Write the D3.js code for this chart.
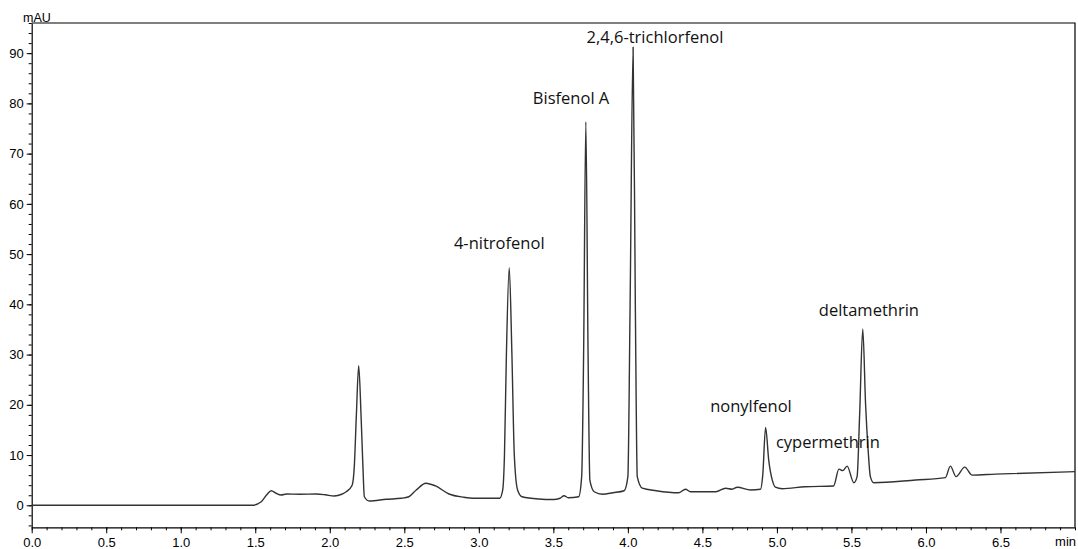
<!DOCTYPE html>
<html>
<head>
<meta charset="utf-8">
<script src="https://cdn.jsdelivr.net/npm/d3@7"></script>
<style>
    body { margin: 0; background: #fff; }
    svg { display: block; }
</style>
</head>
<body>
<div id="chart"></div>
<script>
const WIDTH = 1078;
const HEIGHT = 549;
const PLOT = { left: 31.7, right: 1075, top: 23, bottom: 527.3 };
const AXIS_FONT = "'Liberation Sans', Arial, sans-serif";

// Retention time (min) and absorbance (mAU)
const times = [
    0.00, 1.48, 1.54, 1.58, 1.607, 1.64, 1.673, 1.71, 1.80, 1.91, 1.97, 2.03, 2.08, 2.11, 2.15,
    2.165, 2.178, 2.194, 2.21, 2.222, 2.232, 2.265, 2.38, 2.48, 2.53, 2.58, 2.645, 2.71, 2.80,
    2.90, 2.96, 3.14, 3.16, 3.172, 3.185, 3.204, 3.222, 3.238, 3.26, 3.29, 3.40, 3.50, 3.545,
    3.572, 3.60, 3.67, 3.69, 3.703, 3.718, 3.733, 3.745, 3.774, 3.83, 3.90, 3.975, 4.00, 4.015,
    4.035, 4.05, 4.063, 4.097, 4.19, 4.34, 4.387, 4.42, 4.59, 4.656, 4.70, 4.734, 4.824, 4.89,
    4.905, 4.924, 4.945, 4.969, 4.99, 5.036, 5.19, 5.38, 5.416, 5.442, 5.471, 5.516, 5.538,
    5.555, 5.576, 5.595, 5.612, 5.627, 5.65, 5.93, 6.13, 6.164, 6.202, 6.26, 6.31, 6.466, 7.00
];
const mAU = [
    0, 0, 0.7, 2.2, 2.9, 2.4, 2.05, 2.25, 2.2, 2.25, 2.1, 1.85, 2.2, 2.7, 4.0,
    8.0, 17.7, 27.8, 17.7, 8.0, 1.7, 0.85, 1.2, 1.4, 1.7, 3.05, 4.4, 3.85, 2.25,
    1.6, 1.4, 1.4, 3.0, 10, 30, 47.3, 30, 10, 3.05, 1.7, 1.25, 1.15, 1.4,
    1.9, 1.5, 1.7, 5.7, 30, 76.3, 30, 5.0, 2.7, 2.2, 2.5, 2.9, 5.7, 40,
    91.2, 40, 5.7, 3.4, 2.9, 2.5, 3.2, 2.7, 2.7, 3.4, 3.2, 3.6, 3.05, 3.2,
    6, 15.5, 9, 5.0, 3.6, 3.3, 3.7, 3.85, 7.2, 6.9, 7.8, 4.5, 5.7,
    18, 35.1, 20, 11.0, 5.7, 4.5, 5.04, 5.5, 7.8, 5.7, 7.6, 6.0, 6.2, 6.7
];

// Peak annotations (text, time, mAU of text baseline)
const peakNames = ['4-nitrofenol', 'Bisfenol A', '2,4,6-trichlorfenol', 'nonylfenol', 'cypermethrin', 'deltamethrin'];
const peakTimes = [3.137, 3.619, 4.182, 4.826, 5.342, 5.617];
const peakLabelY = [51.1, 79.8, 92.0, 18.6, 11.4, 37.7];

const xTicks = [0.0, 0.5, 1.0, 1.5, 2.0, 2.5, 3.0, 3.5, 4.0, 4.5, 5.0, 5.5, 6.0, 6.5];
const yTicks = [0, 10, 20, 30, 40, 50, 60, 70, 80, 90];

const svg = d3.select('#chart')
    .append('svg')
    .attr('width', WIDTH)
    .attr('height', HEIGHT);

const x = d3.scaleLinear().domain([0, 7.0]).range([PLOT.left, PLOT.right]);
const y = d3.scaleLinear().domain([-4.38, 96]).range([PLOT.bottom, PLOT.top]);

// Frame (top and right)
svg.append('path')
    .attr('d', `M${PLOT.left},${PLOT.top}H${PLOT.right}V${PLOT.bottom}`)
    .attr('fill', 'none')
    .attr('stroke', '#000')
    .attr('stroke-width', 1.2);

// Minor ticks
const xMinor = d3.range(0, 71).map(i => i / 10);
const yMinor = d3.range(-2, 49).map(i => i * 2);

const xMinorAxis = svg.append('g')
    .attr('transform', `translate(0,${PLOT.bottom})`)
    .call(d3.axisBottom(x).tickValues(xMinor).tickSize(3).tickFormat(''));
xMinorAxis.select('.domain').remove();

const yMinorAxis = svg.append('g')
    .attr('transform', `translate(${PLOT.left},0)`)
    .call(d3.axisLeft(y).tickValues(yMinor).tickSize(3).tickFormat(''));
yMinorAxis.select('.domain').remove();

// Major axes
const xAxis = svg.append('g')
    .attr('transform', `translate(0,${PLOT.bottom})`)
    .call(d3.axisBottom(x).tickValues(xTicks).tickSize(6).tickSizeOuter(0).tickPadding(4)
        .tickFormat(d3.format('.1f')));

const yAxis = svg.append('g')
    .attr('transform', `translate(${PLOT.left},0)`)
    .call(d3.axisLeft(y).tickValues(yTicks).tickSize(5).tickSizeOuter(0).tickPadding(3)
        .tickFormat(d3.format('d')));

[xAxis, yAxis, xMinorAxis, yMinorAxis].forEach(a => {
    a.attr('font-family', AXIS_FONT).attr('font-size', 13);
    a.selectAll('line').attr('stroke', '#000');
    a.select('.domain').attr('stroke', '#000').attr('stroke-width', 1.2);
    a.selectAll('text').attr('fill', '#000');
});

// Unit labels
svg.append('text')
    .attr('x', 23)
    .attr('y', 21.5)
    .attr('font-family', AXIS_FONT)
    .attr('font-size', 12.5)
    .text('mAU');

svg.append('text')
    .attr('x', 1076)
    .attr('y', 546)
    .attr('text-anchor', 'end')
    .attr('font-family', AXIS_FONT)
    .attr('font-size', 13)
    .text('min');

// Chromatogram trace
const points = times.map((t, i) => ({ t: t, v: mAU[i] }));
const line = d3.line()
    .x(d => x(d.t))
    .y(d => y(d.v))
    .curve(d3.curveMonotoneX);

svg.append('path')
    .datum(points)
    .attr('d', line)
    .attr('fill', 'none')
    .attr('stroke', '#333')
    .attr('stroke-width', 1.4)
    .attr('stroke-linejoin', 'round');

// Peak labels
svg.selectAll('text.peak')
    .data(peakNames)
    .enter()
    .append('text')
    .attr('class', 'peak')
    .attr('x', (d, i) => x(peakTimes[i]))
    .attr('y', (d, i) => y(peakLabelY[i]))
    .attr('text-anchor', 'middle')
    .attr('font-family', "'Open Sans', sans-serif")
    .attr('font-size', 16.5)
    .attr('fill', '#111')
    .text(d => d);
</script>
</body>
</html>
